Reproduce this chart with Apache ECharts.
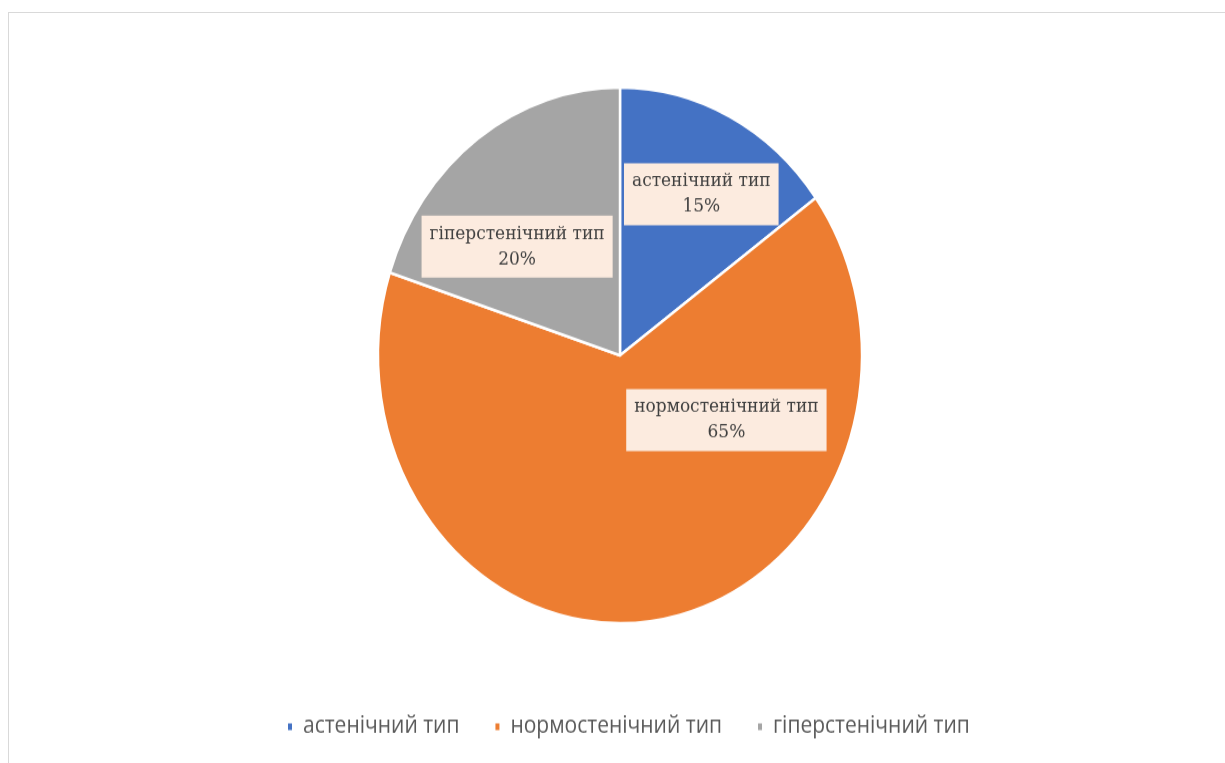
<!DOCTYPE html>
<html>
<head>
<meta charset="utf-8">
<script src="https://cdn.jsdelivr.net/npm/echarts@6/dist/echarts.min.js"></script>
<style>
  html, body { margin: 0; padding: 0; background: #ffffff; overflow: hidden; }
  #frame {
    position: absolute; left: 8px; top: 12px; width: 1240px; height: 780px;
    border-left: 1px solid #d9d9d9; border-top: 1px solid #d9d9d9;
  }
  #chart {
    position: absolute; left: 0; top: 0; width: 1225px; height: 689px;
    transform: scaleY(1.107); transform-origin: 0 0;
  }
</style>
</head>
<body>
<div id="frame"></div>
<div id="chart"></div>
<script>
// Body-type distribution (share of respondents, %)
const categories = ['астенічний тип', 'нормостенічний тип', 'гіперстенічний тип'];
const shares = [15, 65, 20];
const colors = ['#4472C4', '#ED7D31', '#A5A5A5'];

// shift of each data label from the slice mid-point (px)
const labelShift = [[25, -35], [87, -64], [-30, 2]];

const chart = echarts.init(document.getElementById('chart'), null, { renderer: 'canvas' });

chart.setOption({
  animation: false,
  color: colors,
  legend: {
    data: categories,
    left: 281,
    top: 641,
    icon: 'rect',
    itemWidth: 6,
    itemHeight: 8,
    itemGap: 34,
    textStyle: { fontFamily: 'Open Sans', fontSize: 21, color: '#595959', padding: [0, 0, 0, 5] }
  },
  series: [{
    type: 'pie',
    center: [620, 321],
    radius: 242,
    startAngle: 90,
    clockwise: true,
    silent: true,
    itemStyle: { borderColor: '#ffffff', borderWidth: 2.5 },
    label: {
      show: true,
      position: 'inside',
      formatter: '{b}\n{d}%',
      fontFamily: 'DejaVu Serif',
      fontSize: 17,
      lineHeight: 23,
      color: '#404040',
      backgroundColor: '#FCEBDF',
      padding: [5, 8, 5, 8],
      align: 'center'
    },
    labelLine: { show: false },
    labelLayout: function (p) {
      const s = labelShift[p.dataIndex];
      return { dx: s[0], dy: s[1] };
    },
    data: categories.map((name, i) => ({ name: name, value: shares[i] }))
  }]
});
</script>
</body>
</html>
